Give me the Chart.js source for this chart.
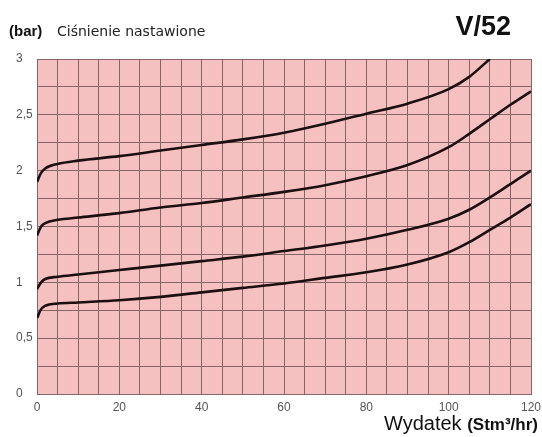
<!DOCTYPE html>
<html>
<head>
<meta charset="utf-8">
<script src="https://cdn.jsdelivr.net/npm/chart.js@4.4.1/dist/chart.umd.min.js"></script>
<style>
  body { margin:0; background:#fff; }
  #wrap { position:relative; width:542px; height:437px; }
  #c { position:absolute; left:0; top:0; }
  .t { position:absolute; white-space:nowrap; color:#111; }
</style>
</head>
<body>
<div id="wrap">
  <canvas id="c" width="542" height="437"></canvas>
  <div class="t" style="left:9px;top:22px;font:bold 15px 'Liberation Sans',Arial,sans-serif;">(bar)</div>
  <div class="t" style="left:57px;top:23px;font:14px 'DejaVu Sans',sans-serif;color:#222;">Ciśnienie nastawione</div>
  <div class="t" style="right:31px;top:11px;font:bold 27px 'Liberation Sans',Arial,sans-serif;">V/52</div>
  <div class="t" style="right:4px;top:412px;font:20px 'Liberation Sans',Arial,sans-serif;">Wydatek <span style="font-weight:bold;font-size:17px;">(Stm³/hr)</span></div>
</div>
<script>
// flow (Stm3/hr) sample points
const flowPoints = [0, 1, 2, 5, 10, 20, 30, 40, 50, 60, 70, 80, 90, 100, 105, 110, 115, 120];

// pressure curves (bar)
const curve1 = [1.90, 1.98, 2.02, 2.06, 2.09, 2.13, 2.18, 2.23, 2.28, 2.34, 2.42, 2.51, 2.60, 2.73, 2.84, 3.00, null, null];
const curve2 = [1.42, 1.50, 1.53, 1.56, 1.58, 1.62, 1.67, 1.71, 1.76, 1.81, 1.87, 1.95, 2.05, 2.21, 2.33, 2.46, 2.59, 2.71];
const curve3 = [0.94, 1.00, 1.03, 1.05, 1.07, 1.11, 1.15, 1.19, 1.23, 1.28, 1.33, 1.39, 1.47, 1.57, 1.65, 1.76, 1.88, 2.00];
const curve4 = [0.68, 0.76, 0.79, 0.81, 0.82, 0.84, 0.87, 0.91, 0.95, 0.99, 1.04, 1.09, 1.16, 1.27, 1.36, 1.47, 1.58, 1.70];

const xLabels = [0, 20, 40, 60, 80, 100, 120];
const yLabels = [0, 0.5, 1, 1.5, 2, 2.5, 3];

function toPoints(values){
    let pts = [];
    values.forEach((v, i) => {
        if(v !== null){
            pts.push({x: flowPoints[i], y: v});
        }
    });
    return pts;
}

const areaBg = {
    id: "areaBg",
    beforeDraw(chart){
        const a = chart.chartArea;
        const ctx = chart.ctx;
        ctx.save();
        ctx.fillStyle = "#f5c1c0";
        ctx.fillRect(a.left, a.top, a.right - a.left, a.bottom - a.top);
        ctx.restore();
    }
};

function lineSet(values){
    return {
        data: toPoints(values),
        borderColor: "#1b0f0f",
        borderWidth: 2.6,
        pointRadius: 0,
        cubicInterpolationMode: "monotone",
        fill: false
    };
}

new Chart(document.getElementById("c"), {
    type: "line",
    data: {
        datasets: [lineSet(curve1), lineSet(curve2), lineSet(curve3), lineSet(curve4)]
    },
    options: {
        responsive: false,
        animation: false,
        layout: { padding: { left: 16, right: 11, top: 59, bottom: 0 } },
        plugins: { legend: { display: false }, tooltip: { enabled: false } },
        scales: {
            x: {
                type: "linear",
                min: 0,
                max: 120,
                afterFit: s => { s.height = 43; s.paddingRight = 0; s.paddingLeft = 0; },
                border: { color: "#856565", width: 1 },
                grid: { color: "#856565", lineWidth: 1, drawTicks: false },
                ticks: {
                    stepSize: 5,
                    padding: 6,
                    color: "#555",
                    font: { family: "'Liberation Sans', Arial, sans-serif", size: 12 },
                    autoSkip: false,
                    maxRotation: 0,
                    callback: v => xLabels.includes(v) ? String(v) : ""
                }
            },
            y: {
                type: "linear",
                min: 0,
                max: 3,
                afterFit: s => { s.width = 21; },
                border: { color: "#856565", width: 1 },
                grid: { color: "#856565", lineWidth: 1, drawTicks: false },
                ticks: {
                    stepSize: 0.25,
                    crossAlign: "far",
                    padding: 4,
                    color: "#555",
                    font: { family: "'Liberation Sans', Arial, sans-serif", size: 12 },
                    autoSkip: false,
                    callback: v => yLabels.includes(v) ? String(v).replace(".", ",") : ""
                }
            }
        }
    },
    plugins: [areaBg]
});
</script>
</body>
</html>
